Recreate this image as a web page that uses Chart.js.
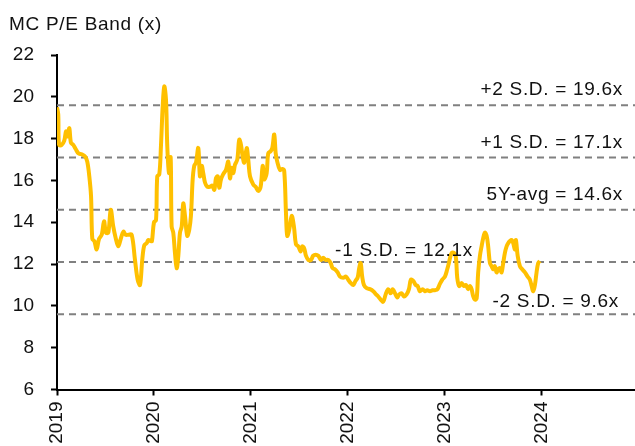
<!DOCTYPE html>
<html>
<head>
<meta charset="utf-8">
<script src="https://cdn.jsdelivr.net/npm/chart.js@4.4.1/dist/chart.umd.min.js"></script>
<style>
  html, body { margin: 0; padding: 0; background: #fff; }
  #wrap { width: 635px; height: 446px; position: relative; }
</style>
</head>
<body>
<div id="wrap"><canvas id="pe-band"></canvas></div>
<script>
// MC P/E band chart

const chartTitle = "MC P/E Band (x)";

// time axis in decimal years (2019.0 = start of 2019)
const years = [
  2019.000, 2019.013, 2019.021, 2019.048, 2019.075, 2019.093, 2019.110, 2019.127, 2019.144, 2019.168,
  2019.193, 2019.220, 2019.255, 2019.289, 2019.312, 2019.333, 2019.351, 2019.364, 2019.385, 2019.409,
  2019.433, 2019.461, 2019.485, 2019.505, 2019.529, 2019.554, 2019.580, 2019.605, 2019.632, 2019.657,
  2019.684, 2019.708, 2019.735, 2019.770, 2019.804, 2019.832, 2019.856, 2019.879, 2019.900, 2019.925,
  2019.941, 2019.966, 2019.979, 2020.000, 2020.021, 2020.034, 2020.055, 2020.072, 2020.090, 2020.106,
  2020.124, 2020.137, 2020.155, 2020.172, 2020.182, 2020.199, 2020.216, 2020.234, 2020.251, 2020.268,
  2020.286, 2020.302, 2020.320, 2020.343, 2020.364, 2020.381, 2020.399, 2020.415, 2020.433, 2020.457,
  2020.474, 2020.492, 2020.508, 2020.526, 2020.549, 2020.577, 2020.601, 2020.622, 2020.639, 2020.657,
  2020.673, 2020.691, 2020.714, 2020.742, 2020.766, 2020.784, 2020.801, 2020.818, 2020.835, 2020.859,
  2020.879, 2020.897, 2020.914, 2020.931, 2020.956, 2020.972, 2020.990, 2021.024, 2021.048, 2021.075,
  2021.100, 2021.121, 2021.137, 2021.162, 2021.178, 2021.203, 2021.220, 2021.240, 2021.255, 2021.271,
  2021.299, 2021.323, 2021.343, 2021.361, 2021.374, 2021.395, 2021.420, 2021.443, 2021.464, 2021.488,
  2021.512, 2021.529, 2021.549, 2021.567, 2021.591, 2021.619, 2021.642, 2021.667, 2021.694, 2021.722,
  2021.745, 2021.770, 2021.797, 2021.822, 2021.842, 2021.866, 2021.894, 2021.918, 2021.952, 2021.979,
  2022.003, 2022.028, 2022.055, 2022.079, 2022.100, 2022.116, 2022.131, 2022.147, 2022.165, 2022.193,
  2022.227, 2022.261, 2022.289, 2022.312, 2022.337, 2022.364, 2022.389, 2022.415, 2022.440, 2022.461,
  2022.485, 2022.508, 2022.529, 2022.554, 2022.577, 2022.605, 2022.629, 2022.649, 2022.673, 2022.698,
  2022.719, 2022.742, 2022.770, 2022.794, 2022.818, 2022.845, 2022.873, 2022.897, 2022.923, 2022.948,
  2022.972, 2023.000, 2023.024, 2023.041, 2023.062, 2023.079, 2023.110, 2023.127, 2023.147, 2023.172,
  2023.196, 2023.216, 2023.240, 2023.258, 2023.275, 2023.292, 2023.309, 2023.327, 2023.343, 2023.361,
  2023.378, 2023.395, 2023.412, 2023.430, 2023.446, 2023.464, 2023.481, 2023.498, 2023.515, 2023.533,
  2023.549, 2023.567, 2023.584, 2023.601, 2023.619, 2023.636, 2023.653, 2023.670, 2023.688, 2023.704,
  2023.722, 2023.732, 2023.750, 2023.773, 2023.797, 2023.825, 2023.853, 2023.876, 2023.894, 2023.911,
  2023.928, 2023.945, 2023.962, 2023.979
];

// forward P/E (x)
const peValues = [
  19.50, 19.15, 17.70, 17.70, 17.90, 18.35, 18.10, 18.50, 17.80, 17.70,
  17.50, 17.30, 17.25, 17.15, 16.90, 16.20, 15.25, 13.20, 13.10, 12.70,
  13.20, 13.40, 14.05, 13.50, 13.50, 14.60, 13.80, 13.25, 12.85, 13.20,
  13.55, 13.40, 13.40, 13.40, 12.20, 11.25, 11.00, 12.20, 12.90, 13.00,
  13.15, 13.10, 13.10, 14.00, 14.10, 16.20, 16.30, 17.65, 19.55, 20.50,
  19.85, 17.65, 16.35, 17.10, 13.80, 13.50, 12.55, 11.80, 12.40, 13.50,
  13.80, 14.90, 14.30, 13.35, 13.65, 14.30, 16.05, 16.70, 16.85, 17.55,
  16.20, 16.70, 16.35, 15.90, 15.70, 15.70, 15.75, 15.55, 16.10, 16.20,
  15.65, 16.05, 16.30, 16.50, 16.90, 16.10, 16.60, 16.35, 16.75, 17.00,
  17.95, 17.70, 17.15, 16.85, 17.55, 17.00, 16.20, 15.80, 15.70, 15.50,
  15.70, 16.70, 16.05, 16.35, 17.30, 17.40, 17.55, 18.20, 17.30, 16.90,
  16.50, 16.55, 16.45, 14.45, 13.35, 13.65, 14.30, 13.80, 12.95, 12.85,
  12.60, 12.85, 12.75, 12.40, 12.20, 12.20, 12.40, 12.45, 12.40, 12.20,
  12.30, 12.20, 12.20, 12.05, 11.80, 11.75, 11.60, 11.40, 11.35, 11.40,
  11.25, 11.10, 11.00, 11.20, 11.35, 11.80, 12.05, 11.40, 11.00, 10.85,
  10.80, 10.70, 10.55, 10.45, 10.30, 10.20, 10.55, 10.80, 10.60, 10.80,
  10.60, 10.40, 10.55, 10.60, 10.45, 10.55, 10.80, 11.25, 11.20, 11.00,
  10.95, 10.70, 10.80, 10.70, 10.75, 10.70, 10.75, 10.75, 10.80, 11.05,
  11.25, 11.40, 11.75, 12.05, 12.45, 12.55, 12.40, 11.35, 10.95, 11.10,
  10.95, 11.00, 10.80, 10.95, 10.80, 10.45, 10.30, 10.35, 11.60, 12.40,
  12.85, 13.25, 13.50, 13.35, 12.85, 12.05, 11.90, 11.75, 11.90, 11.60,
  11.75, 11.80, 11.60, 12.05, 12.55, 12.85, 13.00, 13.10, 13.15, 13.00,
  12.70, 13.15, 12.40, 11.90, 11.75, 11.60, 11.40, 11.25, 10.95, 10.70,
  11.00, 11.60, 12.05, 12.15
];

// band lines
const bandNames = ["+2 S.D.", "+1 S.D.", "5Y-avg", "-1 S.D.", "-2 S.D."];
const bandValues = [19.6, 17.1, 14.6, 12.1, 9.6];

const yTicks = [6, 8, 10, 12, 14, 16, 18, 20, 22];
const xTicks = [2019, 2020, 2021, 2022, 2023, 2024];
const xStart = 2019;
const xEnd = 2024.96;

const FONT = "'Liberation Sans', Arial, sans-serif";

// draws the title and the band captions
const captionPlugin = {
  id: "captions",
  afterDatasetsDraw(chart) {
    const { ctx, chartArea, scales } = chart;
    ctx.save();
    ctx.fillStyle = "#111";
    ctx.font = "19px " + FONT;
    ctx.letterSpacing = "0.7px";
    ctx.textBaseline = "middle";

    ctx.textAlign = "left";
    ctx.fillText(chartTitle, 9, 25);

    bandValues.forEach((v, i) => {
      const label = bandNames[i] + " = " + v.toFixed(1) + "x";
      const y = scales.y.getPixelForValue(v);
      if (bandNames[i] === "-1 S.D.") {
        ctx.textAlign = "center";
        ctx.fillText(label, 404, y - 11);
      } else if (bandNames[i] === "-2 S.D.") {
        ctx.textAlign = "right";
        ctx.fillText(label, chartArea.right - 16, y - 12);
      } else {
        ctx.textAlign = "right";
        ctx.fillText(label, chartArea.right - 12, y - 15);
      }
    });
    ctx.restore();
  },
};

const peData = years.map((x, i) => ({ x: x, y: peValues[i] }));

const bandDatasets = bandValues.map((v, i) => ({
  label: bandNames[i],
  data: [
    { x: xStart, y: v },
    { x: xEnd, y: v },
  ],
  borderColor: "#808080",
  borderWidth: 2,
  borderDash: [7, 5],
  pointRadius: 0,
  fill: false,
  order: 2,
}));

new Chart(document.getElementById("pe-band"), {
  type: "line",
  data: {
    datasets: [
      {
        label: "P/E",
        data: peData,
        borderColor: "#FFC000",
        borderWidth: 4,
        pointRadius: 0,
        tension: 0.35,
        fill: false,
        order: 1,
      },
      ...bandDatasets,
    ],
  },
  options: {
    responsive: true,
    maintainAspectRatio: false,
    animation: false,
    layout: { padding: { top: 55, right: 0, bottom: 0, left: 0 } },
    plugins: {
      legend: { display: false },
      tooltip: { enabled: false },
    },
    scales: {
      x: {
        type: "linear",
        min: xStart,
        max: xEnd,
        afterBuildTicks: (scale) => {
          scale.ticks = xTicks.map((v) => ({ value: v }));
        },
        afterFit: (scale) => {
          scale.height = 56.5;
        },
        ticks: {
          minRotation: 90,
          maxRotation: 90,
          padding: 6,
          color: "#111",
          font: { family: FONT, size: 19 },
          callback: (v) => String(v),
        },
        grid: {
          drawOnChartArea: false,
          color: "#000",
          tickLength: 6,
          tickWidth: 2,
        },
        border: { color: "#000", width: 2 },
      },
      y: {
        min: 6,
        max: 22,
        afterBuildTicks: (scale) => {
          scale.ticks = yTicks.map((v) => ({ value: v }));
        },
        afterFit: (scale) => {
          scale.width = 57;
        },
        ticks: {
          padding: 17,
          color: "#111",
          font: { family: FONT, size: 19 },
        },
        grid: {
          drawOnChartArea: false,
          color: "#000",
          tickLength: 6,
          tickWidth: 2,
        },
        border: { color: "#000", width: 2 },
      },
    },
  },
  plugins: [captionPlugin],
});
</script>
</body>
</html>
